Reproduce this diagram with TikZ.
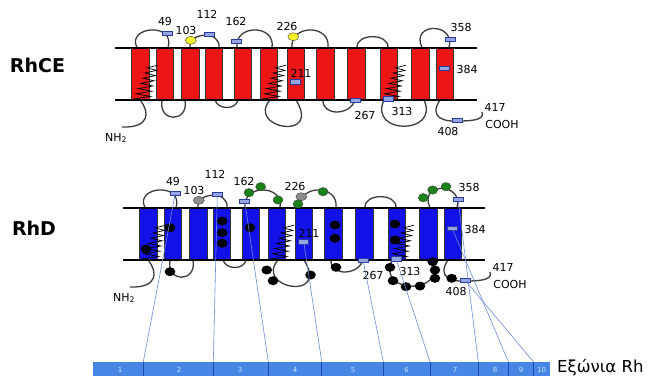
\documentclass[tikz,border=0pt]{standalone}
\usepackage{fontspec}
\setmainfont{DejaVu Sans}

\definecolor{rhred}{RGB}{236,22,22}
\definecolor{rhblue}{RGB}{18,18,232}
\definecolor{strandgray}{RGB}{60,60,60}
\definecolor{tagfill}{RGB}{150,165,225}
\definecolor{tagdraw}{RGB}{40,60,160}
\definecolor{dotyellow}{RGB}{245,240,40}
\definecolor{dotgreen}{RGB}{25,130,25}
\definecolor{dotgray}{RGB}{140,140,140}
\definecolor{exonblue}{RGB}{70,135,230}
\definecolor{exonline}{RGB}{30,75,165}
\definecolor{exontext}{RGB}{205,225,252}
\definecolor{linkblue}{RGB}{110,140,215}

% zig-zag drawn over a helix, #1 = left edge of the helix
\newcommand{\rhspring}[1]{%
  \draw[springline] ({#1+2.3},99)
    \foreach \i in {1,...,13}{ -- ({#1+2.3+1.1*\i+mod(\i,2)*(16-0.5*\i)},{99-2.6*\i}) };
}

% one Rh protein in the membrane
% #1 helix colour, #2 prefix for node names, #3 colour of residues 103/226
\newcommand{\rhprotein}[3]{%
  % loops and tails
  \draw[strand] (140,100) .. controls (150,112) and (150,128) .. (122,127);
  \draw[strand] (137,47.7) .. controls (126,26) and (176,22) .. (168,47.7);
  \draw[strand] (190,47.7) .. controls (188,32) and (221,30) .. (219,47.7);
  \draw[strand] (237,47.7) .. controls (234,24) and (276,24) .. (272,47.7);
  \draw[strand] (292,47.7) .. controls (290,24) and (331,24) .. (328,47.7);
  \draw[strand] (357,47.7) .. controls (356,33) and (389,33) .. (388,47.7);
  \draw[strand] (422,47.7) .. controls (410,22) and (456,22) .. (449,47.7);
  \draw[strand] (162,100) .. controls (158,123) and (189,123) .. (185,100);
  \draw[strand] (215,100) .. controls (218,110) and (236,110) .. (238,100);
  \draw[strand] (270,100) .. controls (246,128) and (322,142) .. (296,100);
  \draw[strand] (323,100) .. controls (322,116) and (350,116) .. (355,100);
  \draw[strand] (384,100) .. controls (368,135) and (440,135) .. (424,100);
  \draw[strand] (440,100) .. controls (428,118) and (445,122) .. (458,121)
                          .. controls (472,121) and (485,120) .. (482,112);
  % twelve helices
  \foreach \x in {131.7,156,181.7,205,234,260,287,316.7,347.7,380,411.7,436}
    \filldraw[helix, fill=#1] (\x,47.7) rectangle ++(17.5,52.3);
  \foreach \x in {131.7,260,380} \rhspring{\x};
  % bilayer
  \draw[membrane] (115,47.7) -- (476.7,47.7);
  \draw[membrane] (115,100) -- (476.7,100);
  % residues 103 and 226
  \filldraw[blob, fill=#3] (190.8,40.3) ellipse (5.5pt and 4pt);
  \filldraw[blob, fill=#3] (293.3,36.7) ellipse (5.5pt and 4pt);
  % exon junction sites
  \node[sitebox] (#2m49)  at (167.3,33.3) {};
  \node[sitebox] (#2m112) at (209.3,34.3) {};
  \node[sitebox] (#2m162) at (236.7,41)   {};
  \node[sitebox] (#2m211) at (295.7,81.7) {};
  \node[sitebox] (#2m267) at (355,100)    {};
  \node[sitebox] (#2m313) at (388,98.5)   {};
  \node[sitebox] (#2m358) at (450,39)     {};
  \node[sitebox] (#2m384) at (444,68)     {};
  \node[sitebox] (#2m408) at (457,120)    {};
  % residue numbers
  \node[num] (#2n49)  at (165,21)  {49};
  \node[num] (#2n103) at (186,30)  {103};
  \node[num] (#2n112) at (207,14)  {112};
  \node[num] (#2n162) at (236,21)  {162};
  \node[num] (#2n226) at (287,26)  {226};
  \node[num] (#2n211) at (301,73)  {211};
  \node[num] (#2n267) at (365,115) {267};
  \node[num] (#2n313) at (402,111) {313};
  \node[num] (#2n358) at (461,27)  {358};
  \node[num] (#2n384) at (467,69)  {384};
  \node[num] (#2n408) at (448,131) {408};
  \node[num] (#2n417) at (495,107) {417};
  \node[num] (#2cooh) at (502,124) {COOH};
  \node[num] (#2nh)   at (116,138) {NH\textsubscript{2}};
}

\begin{document}
\begin{tikzpicture}[x=1pt, y=-1pt,
    strand/.style={draw=strandgray, line width=1.3pt},
    helix/.style={draw=black!80, line width=0.5pt},
    membrane/.style={black, line width=1.6pt},
    springline/.style={black, line width=0.7pt},
    sitebox/.style={rectangle, draw=tagdraw, fill=tagfill, line width=0.5pt,
      minimum width=10pt, minimum height=4.5pt, inner sep=0pt},
    blob/.style={draw=black!75, line width=0.4pt},
    num/.style={font=\fontsize{11}{11}\selectfont, inner sep=0pt},
    species/.style={font=\bfseries\fontsize{19}{19}\selectfont, inner sep=0pt},
    exonnum/.style={font=\fontsize{7}{7}\selectfont, text=exontext, inner sep=0pt},
    link/.style={draw=linkblue, line width=0.6pt}]

  \useasboundingbox (0,0) rectangle (653,376);
  \fill[white] (0,0) rectangle (653,376);

  % RhCE ----------------------------------------------------
  \node[species] (rhce) at (37.5,65.5) {RhCE};
  \rhprotein{rhred}{c}{dotyellow}

  % RhD -----------------------------------------------------
  \node[species] (rhd) at (34,228.5) {RhD};
  \begin{scope}[shift={(8,160)}]
    \rhprotein{rhblue}{d}{dotgray}
  \end{scope}
  % residues that differ from RhCE
  \foreach \x/\y in {249/192.7, 260.7/186.7, 278/200, 298/204, 323/191.7,
                     423.3/197.7, 432.7/190, 446/186.7}
    \filldraw[blob, fill=dotgreen] (\x,\y) ellipse (5pt and 4.2pt);
  \foreach \x/\y in {146/249, 170/227.7, 222.3/221, 222.3/232.7, 222.3/243.3,
                     250/227.7, 335/225, 335/238.3, 395/224, 395/240,
                     170/271.7, 266.7/270, 273/280.7, 310.5/275, 336/267.3,
                     390/267.3, 393/280.7, 406/286.7, 420/286, 435/278.3,
                     435/270, 432.7/261.7, 451.7/278.3}
    \fill[black] (\x,\y) ellipse (5.3pt and 4.5pt);

  % exon map ------------------------------------------------
  \fill[exonblue] (93.3,361.7) rectangle (550,376);
  \foreach \x [count=\k] in {143.3,213.3,268.3,321.7,383.3,430,478.3,508.3,533.3}{
    \coordinate (b\k) at (\x,361.7);
    \draw[exonline, line width=0.8pt] (b\k) -- (\x,376);
  }
  \foreach \n/\x in {1/120,2/179,3/240,4/295,5/353,6/406.7,7/455,8/495,9/521,10/541.7}
    \node[exonnum] (ex\n) at (\x,369.5) {\n};
  \node[anchor=west, inner sep=0pt, font=\fontsize{16.5}{16.5}\selectfont]
    (exons) at (557,367.5) {Εξώνια Rh};

  % junctions on RhD mapped to the exon borders
  \draw[link] (dm49)  -- (b1);
  \draw[link] (dm112) -- (b2);
  \draw[link] (dm162) -- (b3);
  \draw[link] (dm211) -- (b4);
  \draw[link] (dm267) -- (b5);
  \draw[link] (dm313) -- (b6);
  \draw[link] (dm358) -- (b7);
  \draw[link] (dm384) -- (b8);
  \draw[link] (dm408) -- (b9);

\end{tikzpicture}
\end{document}
